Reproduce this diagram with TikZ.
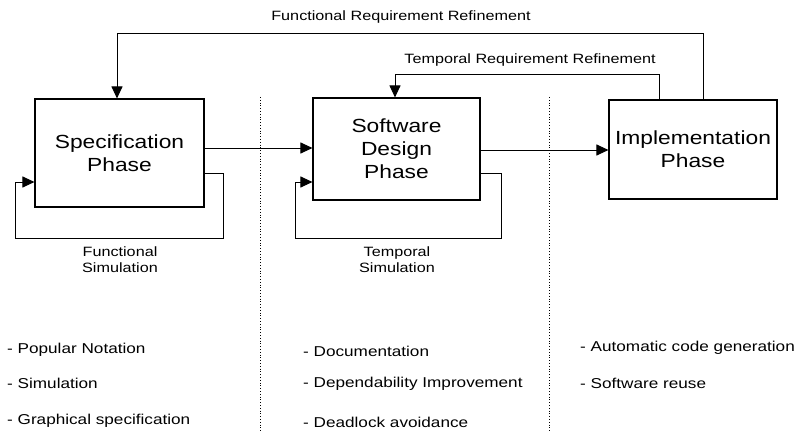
\documentclass[tikz,border=0pt]{standalone}
\usepackage{fontspec}
\setmainfont{Liberation Sans}[FakeStretch=1.2]
\usetikzlibrary{arrows.meta}
\begin{document}
\begin{tikzpicture}[x=1pt,y=-1pt,
  phase/.style={draw,line width=1.1pt,inner sep=0pt,align=center,font=\fontsize{19}{23}\selectfont},
  conn/.style={line width=1pt,-{Triangle[length=12pt,width=11pt]}},
  lbl/.style={font=\fontsize{13.5}{16}\selectfont,align=center},
  item/.style={font=\fontsize{14.3}{16}\selectfont,anchor=west,inner sep=0pt},
  sep/.style={dotted,line width=0.8pt}]
\useasboundingbox (0,0) rectangle (797,433);
% phase boxes
\node[phase,minimum width=169pt,minimum height=108pt] (spec) at (119.5,153) {Specification\\Phase};
\node[phase,minimum width=167pt,minimum height=102pt] (sw) at (396.5,149) {Software\\Design\\Phase};
\node[phase,minimum width=168pt,minimum height=99pt] (impl) at (693,149.5) {Implementation\\Phase};
% separators
\coordinate (s1t) at (260,97); \coordinate (s1b) at (260,433);
\coordinate (s2t) at (549,97); \coordinate (s2b) at (549,433);
\draw[sep] (s1t) -- (s1b);
\draw[sep] (s2t) -- (s2b);
% forward arrows
\draw[conn] (spec.east |- 0,148) -- (sw.west |- 0,148);
\draw[conn] (sw.east |- 0,150) -- (impl.west |- 0,150);
% functional simulation loop
\coordinate (fl1) at (223,173);
\coordinate (fl2) at (223,238);
\coordinate (fl3) at (15,238);
\coordinate (fl4) at (15,182);
\draw[conn] (spec.east |- fl1) -- (fl1) -- (fl2) -- (fl3) -- (fl4) -- (spec.west |- fl4);
\node[lbl] (fsim) at (120,260) {Functional\\Simulation};
% temporal simulation loop
\coordinate (tl1) at (501,173);
\coordinate (tl2) at (501,238);
\coordinate (tl3) at (295,238);
\coordinate (tl4) at (295,182);
\draw[conn] (sw.east |- tl1) -- (tl1) -- (tl2) -- (tl3) -- (tl4) -- (sw.west |- tl4);
\node[lbl] (tsim) at (397,260) {Temporal\\Simulation};
% functional requirement refinement
\coordinate (fr1) at (703,34);
\coordinate (fr2) at (117,34);
\draw[conn] (impl.north -| fr1) -- (fr1) -- (fr2) -- (spec.north -| fr2);
\node[lbl] (frl) at (401,17) {Functional Requirement Refinement};
% temporal requirement refinement
\coordinate (tr1) at (659,75);
\coordinate (tr2) at (395,75);
\draw[conn] (impl.north -| tr1) -- (tr1) -- (tr2) -- (sw.north -| tr2);
\node[lbl] (trl) at (530,60) {Temporal Requirement Refinement};
% bullet lists
\node[item] (a1) at (7,350) {- Popular Notation};
\node[item] (a2) at (7,383) {- Simulation};
\node[item] (a3) at (7,421) {- Graphical specification};
\node[item] (b1) at (303,351) {- Documentation};
\node[item] (b2) at (303,384) {- Dependability Improvement};
\node[item] (b3) at (303,422) {- Deadlock avoidance};
\node[item] (c1) at (580,348) {- Automatic code generation};
\node[item] (c2) at (580,383) {- Software reuse};
\end{tikzpicture}
\end{document}
